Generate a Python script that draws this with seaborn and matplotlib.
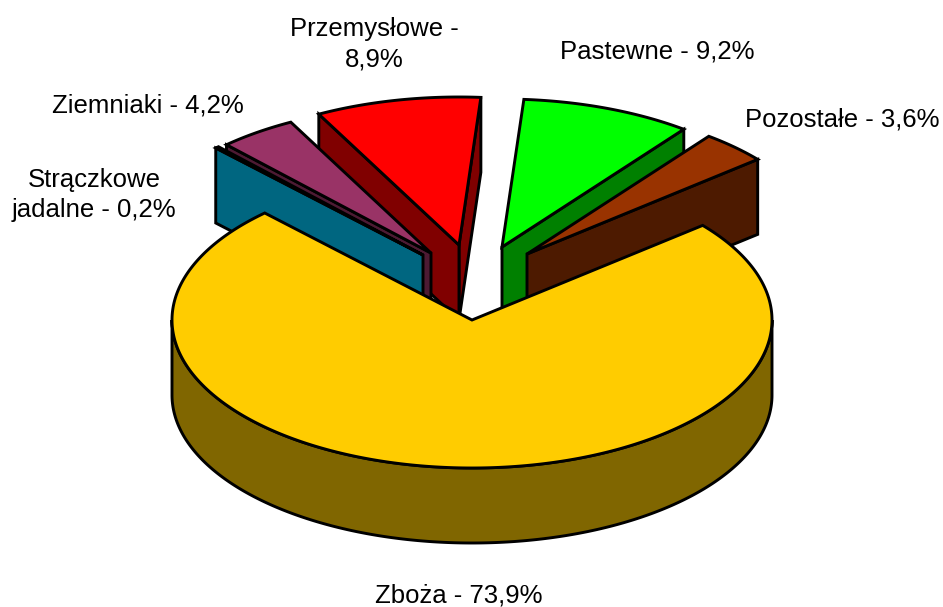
import numpy as np
import matplotlib
matplotlib.use('Agg')
import matplotlib.pyplot as plt
from matplotlib.patches import Polygon
import seaborn as sns

# Crop areas in percent, in the order they go round the pie
categories = ['Zboża', 'Pozostałe', 'Pastewne', 'Przemysłowe', 'Ziemniaki', 'Strączkowe']
shares = [73.9, 3.6, 9.2, 8.9, 4.2, 0.2]
labels = ['Zboża - 73,9%', 'Pozostałe - 3,6%', 'Pastewne - 9,2%', 'Przemysłowe -\n8,9%',
          'Ziemniaki - 4,2%', 'Strączkowe\njadalne - 0,2%']
top_colors = ['#FFCC00', '#993300', '#00FF00', '#FF0000', '#993366', '#00CCFF']

# Pie layout, in pixels of the output picture
CENTER = (472, 320)
RX, RY = 300, 148
DEPTH = 75
START_ANGLE = 133.7
explode_x = [0, 55, 30, -13, -41, -49]
explode_y = [0, -66, -73, -75, -67, -65]
label_pos = [(459, 596), (842, 120), (657, 52), (374, 44), (148, 105), (94, 195)]
draw_order = [3, 4, 5, 2, 1, 0]

sns.set_theme(style='white')
plt.rcParams['font.family'] = ['Liberation Sans', 'DejaVu Sans']
palette = sns.color_palette(top_colors)
side_palette = [tuple(c * 0.5 for c in col) for col in palette]

fig = plt.figure(figsize=(9.43, 6.07), dpi=100)
ax = fig.add_axes([0, 0, 1, 1])
ax.set_xlim(0, 943)
ax.set_ylim(607, 0)
ax.axis('off')


def rim(a0, a1, cx, cy, drop=0):
    t = np.radians(np.linspace(a0, a1, max(int(abs(a1 - a0)) * 2, 2)))
    return np.column_stack([cx + RX * np.cos(t), cy - RY * np.sin(t) + drop])


def face(points, color, z):
    ax.add_patch(Polygon(points, closed=True, facecolor=color, edgecolor='black',
                         linewidth=2.1, joinstyle='miter', zorder=z))


# Slice angles come from the shares
edges = START_ANGLE + np.cumsum([0] + shares) * 3.6

for z, i in enumerate(draw_order):
    a0, a1 = edges[i], edges[i + 1]
    cx = CENTER[0] + explode_x[i]
    cy = CENTER[1] + explode_y[i]
    tip = np.array([[cx, cy]])

    # cut faces turned towards the viewer
    for ang, visible in ((a0, np.cos(np.radians(a0)) > 0), (a1, np.cos(np.radians(a1)) < 0)):
        if visible:
            outer = rim(ang, ang, cx, cy)[:1]
            pts = np.vstack([tip, outer, outer + [0, DEPTH], tip + [0, DEPTH]])
            face(pts, side_palette[i], z * 10 + 1)

    # outer wall, front half only
    lo, hi = max(a0, 180), min(a1, 360)
    if hi > lo:
        pts = np.vstack([rim(lo, hi, cx, cy), rim(hi, lo, cx, cy, DEPTH)])
        face(pts, side_palette[i], z * 10 + 2)

    face(np.vstack([tip, rim(a0, a1, cx, cy)]), palette[i], z * 10 + 3)

for text, (x, y) in zip(labels, label_pos):
    ax.text(x, y, text, ha='center', va='center', fontsize=18.5, color='black',
            linespacing=1.36, zorder=100)

sns.despine(ax=ax, left=True, bottom=True)
fig.savefig('out.png', dpi=100, facecolor='white')
